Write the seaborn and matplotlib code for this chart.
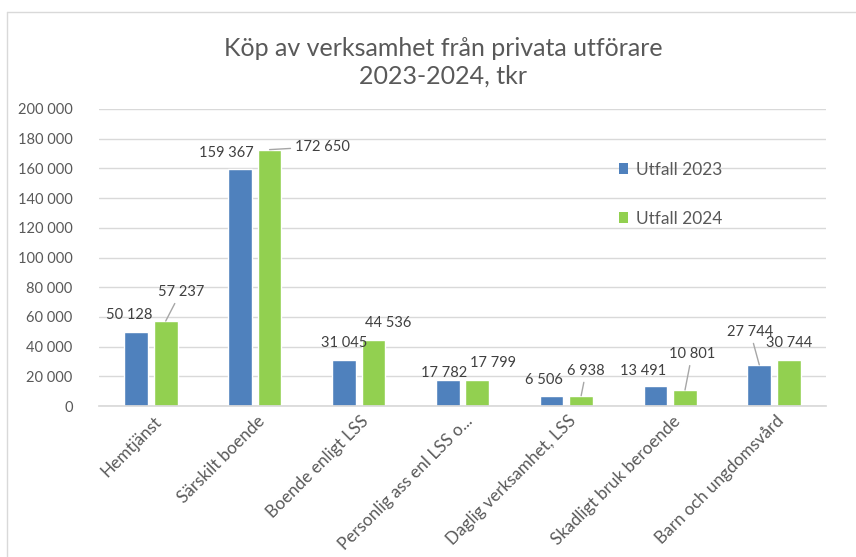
import pandas as pd
import matplotlib.pyplot as plt
import matplotlib.transforms as mtransforms
import seaborn as sns
from matplotlib.patches import Patch

categories = [
    "Hemtjänst",
    "Särskilt boende",
    "Boende enligt LSS",
    "Personlig ass enl LSS o...",
    "Daglig verksamhet, LSS",
    "Skadligt bruk beroende",
    "Barn och ungdomsvård",
]
utfall_2023 = [50128, 159367, 31045, 17782, 6506, 13491, 27744]
utfall_2024 = [57237, 172650, 44536, 17799, 6938, 10801, 30744]
series = ["Utfall 2023", "Utfall 2024"]
yticks = [0, 20000, 40000, 60000, 80000, 100000, 120000, 140000, 160000, 180000, 200000]

# label offsets in pixels (dx, dy) from the bar top, and whether a leader line is drawn
offsets_2023 = [(-7, 17), (-14, 16), (0, 17), (-4, 7), (-8, 16), (-12, 15), (-9, 33)]
offsets_2024 = [(15, 29), (53, 3), (15, 17), (16, 17), (5, 25), (7, 36), (0, 17)]
leader_2023 = [False, False, False, False, False, False, True]
leader_2024 = [True, True, False, False, True, True, False]

df = pd.DataFrame({
    "kategori": categories * 2,
    "serie": [series[0]] * len(categories) + [series[1]] * len(categories),
    "tkr": utfall_2023 + utfall_2024,
})

sns.set_theme(style="white")
plt.rcParams["font.family"] = ["Lato", "DejaVu Sans"]

fig = plt.figure(figsize=(8.56, 5.57), dpi=100)
ax = fig.add_axes([99 / 856, 151 / 557, 727 / 856, 297 / 557])

colors = {"Utfall 2023": "#4F81BD", "Utfall 2024": "#92D050"}
sns.barplot(
    data=df,
    x="kategori",
    y="tkr",
    hue="serie",
    palette=colors,
    width=0.57,
    gap=0.2,
    saturation=1,
    ax=ax,
    legend=False,
)

ax.set_ylim(0, 200000)
ax.set_xlim(-0.5, len(categories) - 0.5)
ax.set_yticks(yticks)
ax.set_yticklabels([f"{v:,}".replace(",", " ") for v in yticks], fontsize=10.5, color="#595959")
ax.yaxis.grid(True, color="#D9D9D9", lw=1)
ax.set_axisbelow(True)
for s in ["top", "right", "left"]:
    ax.spines[s].set_visible(False)
ax.spines["bottom"].set_color("#D9D9D9")
ax.tick_params(axis="y", length=0, pad=19)
ax.tick_params(axis="x", length=0, pad=5)
ax.set_xlabel("")
ax.set_ylabel("")
ax.set_xticks(range(len(categories)))
ax.set_xticklabels(categories, rotation=45, ha="right", rotation_mode="anchor",
                   fontsize=12.3, color="#595959")
shift = mtransforms.ScaledTranslation(2 / 100, 0, fig.dpi_scale_trans)
for lbl in ax.get_xticklabels():
    lbl.set_transform(lbl.get_transform() + shift)

# data labels
for container, offs, leads in zip(ax.containers, [offsets_2023, offsets_2024], [leader_2023, leader_2024]):
    for bar, (dx, dy), lead in zip(container, offs, leads):
        h = bar.get_height()
        x = bar.get_x() + bar.get_width() / 2
        props = dict(arrowstyle="-", color="#A6A6A6", lw=1, shrinkA=1, shrinkB=0) if lead else None
        ax.annotate(
            f"{int(h):,}".replace(",", " "),
            xy=(x, h),
            xytext=(dx, dy),
            textcoords="offset pixels",
            ha="center",
            va="center",
            fontsize=10.5,
            color="#404040",
            arrowprops=props,
        )

handles = [Patch(facecolor=colors[s], edgecolor="none") for s in series]
fig.legend(
    handles,
    series,
    loc="upper left",
    bbox_to_anchor=(603 / 856, 1 - 146 / 557),
    frameon=False,
    fontsize=12.5,
    handlelength=0.55,
    handleheight=0.55,
    handletextpad=0.45,
    labelspacing=1.9,
    labelcolor="#595959",
)

fig.text(443 / 856, 1 - 48 / 557, "Köp av verksamhet från privata utförare",
         ha="center", va="center", fontsize=18, color="#595959")
fig.text(443 / 856, 1 - 76 / 557, "2023-2024, tkr",
         ha="center", va="center", fontsize=18, color="#595959")

# chart border
fig.add_artist(plt.Line2D([7 / 856, 1], [1 - 12 / 557, 1 - 12 / 557], color="#D9D9D9", lw=1))
fig.add_artist(plt.Line2D([7 / 856, 7 / 856], [0, 1 - 12 / 557], color="#D9D9D9", lw=1))

plt.savefig("out.png", dpi=100)
